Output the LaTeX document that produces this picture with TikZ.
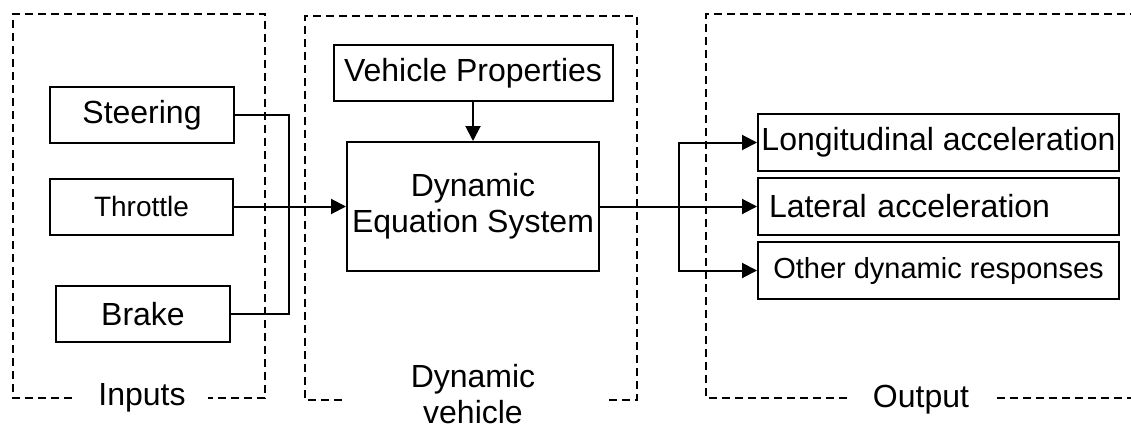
\documentclass[tikz,border=0pt]{standalone}
\usepackage{fontspec}
\setmainfont{Liberation Sans}
\usetikzlibrary{arrows.meta,positioning}

\begin{document}
\begin{tikzpicture}[x=1pt,y=-1pt,
		box/.style={draw,line width=2pt,inner sep=0pt,font=\fontsize{32}{36}\selectfont},
		frame/.style={line width=1.8pt,dash pattern=on 8pt off 5pt},
		conn/.style={line width=2pt},
		arr/.style={conn,-{Triangle[length=15pt,width=15pt]}},
		lbl/.style={font=\fontsize{32}{36}\selectfont,align=center}]
		\useasboundingbox (0,0) rectangle (1131,423);
		\draw[frame] (72,398) -| (13,14) -| (265,398) -- (208,398);
		\draw[frame] (342,400) -| (305,16) -| (637,400) -- (607,400);
		\draw[frame] (847,398) -| (706,14) -- (1140,14);
		\draw[frame] (997,398) -- (1140,398);
		\node[box,minimum width=184pt,minimum height=56pt] (steer) at (142,115) {Steering};
		\node[box,minimum width=183pt,minimum height=56pt,font=\fontsize{28}{32}\selectfont] (throt) at (141.5,206.5) {Throttle};
		\node[box,minimum width=174pt,minimum height=56pt] (brake) at (143,314) {Brake};
		\node[box,minimum width=279pt,minimum height=56pt] (props) at (473,73) {Vehicle Properties};
		\node[box,minimum width=252pt,minimum height=129pt,align=center] (des) at (473,206.5) {Dynamic\\Equation System};
		\node[box,minimum width=361pt,minimum height=57pt] (lon) at (938.5,142.5) {Longitudinal acceleration};
		\node[box,text width=339pt,inner xsep=11pt,minimum height=57pt,align=left] (lat) at (938.5,206.5) {Lateral acceleration};
		\node[box,minimum width=361pt,minimum height=57pt,font=\fontsize{29}{33}\selectfont] (oth) at (938.5,270.5) {Other dynamic responses};
		\node[lbl] (inlbl) at (142,398) {Inputs};
		\node[lbl] (dvlbl) at (473,394) {Dynamic\\vehicle};
		\node[lbl] (outlbl) at (921,400) {Output};
		\coordinate (jin) at (289,206.5);
		\coordinate (jout) at (679,206.5);
		\draw[conn] (steer.east) -| (jin);
		\draw[conn] (brake.east) -| (jin);
		\draw[arr] (throt.east) -- (des.west);
		\draw[arr] (props.south) -- (des.north);
		\draw[arr] (des.east) -- (lat.west);
		\draw[arr] (jout) |- (lon.west);
		\draw[arr] (jout) |- (oth.west);
	\end{tikzpicture}
\end{document}
